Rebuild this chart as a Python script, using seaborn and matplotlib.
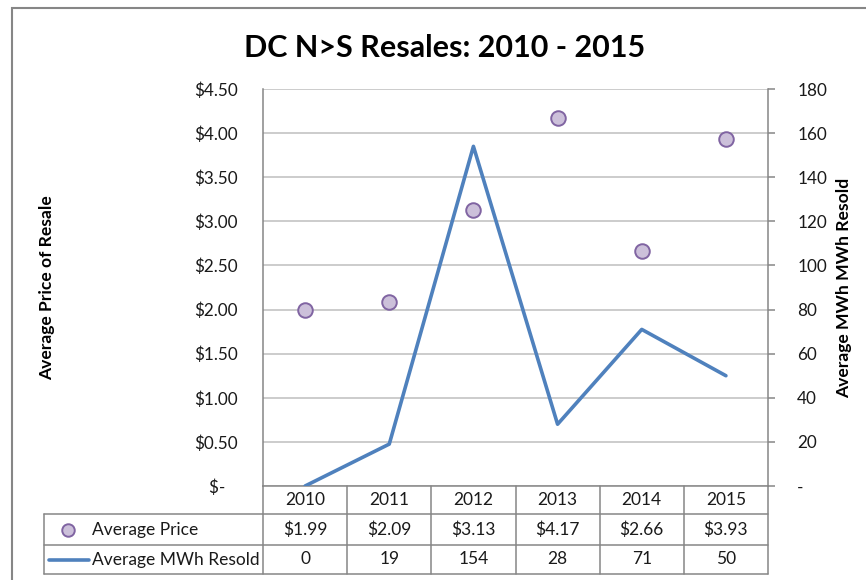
import matplotlib
matplotlib.use("Agg")
import matplotlib.pyplot as plt
from matplotlib.ticker import FuncFormatter, MultipleLocator
from matplotlib.lines import Line2D
from matplotlib.patches import Rectangle
import pandas as pd
import seaborn as sns

# data
years = ["2010", "2011", "2012", "2013", "2014", "2015"]
avg_price = [1.99, 2.09, 3.13, 4.17, 2.66, 3.93]
avg_mwh = [0, 19, 154, 28, 71, 50]
series_names = ["Average Price", "Average MWh Resold"]

df = pd.DataFrame({"year": years, "pos": range(len(years)),
                   "price": avg_price, "mwh": avg_mwh})

sns.set_style("white")
plt.rcParams['font.family'] = ['Lato', 'DejaVu Sans']

W, H = 866, 580
fig = plt.figure(figsize=(W / 100, H / 100), dpi=100)
ax_l, ax_r, ax_t, ax_b = 263, 768, 89, 486
ax = fig.add_axes([ax_l / W, 1 - ax_b / H, (ax_r - ax_l) / W, (ax_b - ax_t) / H])

grid_c = "#bfbfbf"
axis_c = "#868686"
line_c = "#4f81bd"
dot_face = "#ccc0da"
dot_edge = "#8064a2"
txt_c = "#1a1a1a"

sns.scatterplot(data=df, x="pos", y="price", ax=ax, s=110, color=dot_face,
                edgecolor=dot_edge, linewidth=1.4, zorder=3, legend=False)
ax.set_xlim(-0.5, len(years) - 0.5)
ax.set_ylim(0, 4.5)
ax.yaxis.set_major_locator(MultipleLocator(0.5))
ax.yaxis.set_major_formatter(FuncFormatter(lambda v, p: "$-   " if v == 0 else f"${v:.2f}"))
ax.grid(axis="y", color=grid_c, lw=1.1)
ax.set_axisbelow(True)
ax.set_xticks([])
ax.set_xlabel("")
ax.set_ylabel("Average Price of Resale", fontsize=12.6, fontweight="bold", color="black")
ax.yaxis.set_label_coords((55 - ax_l) / (ax_r - ax_l), 0.5)
ax.tick_params(axis="y", length=0, pad=18, labelsize=12.3, labelcolor=txt_c)
for s in ["top", "right"]:
    ax.spines[s].set_visible(False)
for s in ["left", "bottom"]:
    ax.spines[s].set_color(axis_c)
    ax.spines[s].set_linewidth(1.1)

ax2 = ax.twinx()
sns.lineplot(data=df, x="pos", y="mwh", ax=ax2, color=line_c, lw=2.6)
ax2.set_ylim(0, 180)
ax2.yaxis.set_major_locator(MultipleLocator(20))
ax2.yaxis.set_major_formatter(FuncFormatter(lambda v, p: "-" if v == 0 else f"{v:.0f}"))
ax2.tick_params(axis="y", length=5, width=1.1, color=axis_c, pad=16,
                labelsize=12.3, labelcolor=txt_c)
ax2.set_xlabel("")
ax2.set_ylabel("Average MWh MWh Resold", fontsize=12.6, fontweight="bold", color="black")
ax2.yaxis.set_label_coords((836 - ax_l) / (ax_r - ax_l), 0.5)
for s in ["top", "left", "bottom"]:
    ax2.spines[s].set_visible(False)
ax2.spines["right"].set_color(axis_c)
ax2.spines["right"].set_linewidth(1.1)

# data table below the plot
ph = ax_b - ax_t
pw = ax_r - ax_l
row_lines = [(ax_b - y) / ph for y in (514, 545, 574)]
row_mid = [(ax_b - y) / ph for y in (500, 529.5, 559.5)]
tx_left = (44 - ax_l) / pw
xtr = ax.get_xaxis_transform()
tbl = dict(color=axis_c, lw=1.1, clip_on=False)

for b in [i - 0.5 for i in range(len(years) + 1)]:
    ax.add_line(Line2D([b, b], [0, row_lines[-1]], transform=xtr, **tbl))
for y in row_lines:
    ax.add_line(Line2D([tx_left, 1], [y, y], transform=ax.transAxes, **tbl))
ax.add_line(Line2D([tx_left, tx_left], [row_lines[0], row_lines[-1]],
                   transform=ax.transAxes, **tbl))

fs = 12.5
for i, yr in enumerate(years):
    ax.text(i, row_mid[0], yr, transform=xtr, ha="center", va="center",
            fontsize=fs, color=txt_c)
    ax.text(i, row_mid[1], f"${avg_price[i]:.2f}", transform=xtr,
            ha="center", va="center", fontsize=fs, color=txt_c)
    ax.text(i, row_mid[2], f"{avg_mwh[i]}", transform=xtr,
            ha="center", va="center", fontsize=fs, color=txt_c)

# legend keys inside the table
ax.plot([(68 - ax_l) / pw], [row_mid[1]], "o", ms=9, mfc=dot_face, mec=dot_edge,
        mew=1.4, transform=ax.transAxes, clip_on=False)
ax.add_line(Line2D([(49 - ax_l) / pw, (89 - ax_l) / pw], [row_mid[2], row_mid[2]],
                   color=line_c, lw=2.6, transform=ax.transAxes, clip_on=False))
for name, y in zip(series_names, row_mid[1:]):
    ax.text((92 - ax_l) / pw, y, name, transform=ax.transAxes,
            ha="left", va="center", fontsize=fs, color=txt_c)

fig.text(445 / W, 1 - 48 / H, "DC N>S Resales: 2010 - 2015", ha="center",
         va="center", fontsize=22, fontweight="bold", color="black")

# chart area frame
fig.patches.append(Rectangle((12 / W, -0.1), 2, 1.1 - 8 / H, transform=fig.transFigure,
                             fill=False, edgecolor=axis_c, lw=1.5))

fig.savefig("out.png", dpi=100)
